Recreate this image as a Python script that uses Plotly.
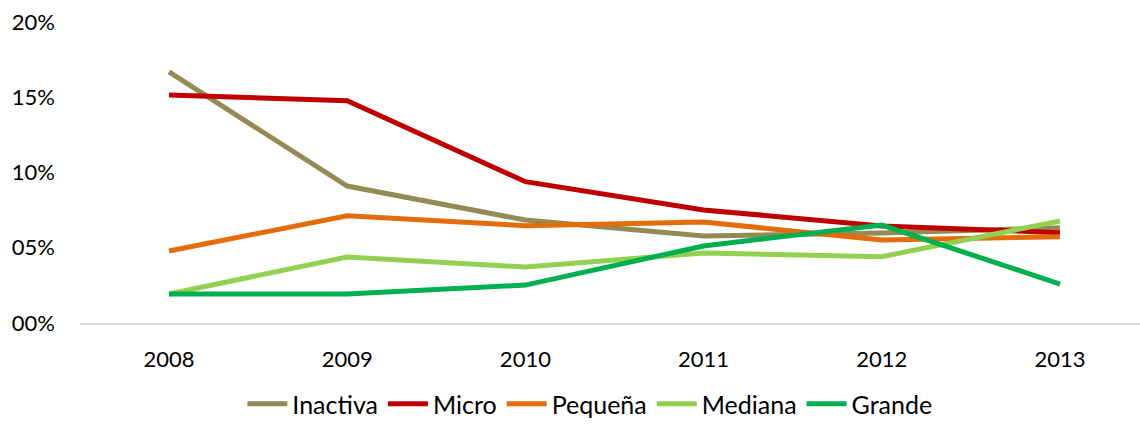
import plotly.graph_objects as go

years = ["2008", "2009", "2010", "2011", "2012", "2013"]
inactiva = [16.68, 9.10, 6.84, 5.78, 5.98, 6.33]
micro = [15.15, 14.77, 9.39, 7.51, 6.45, 6.00]
pequena = [4.78, 7.13, 6.47, 6.71, 5.51, 5.73]
mediana = [1.93, 4.39, 3.72, 4.65, 4.41, 6.78]
grande = [1.93, 1.93, 2.52, 5.12, 6.51, 2.59]

series_names = ["Inactiva", "Micro", "Pequeña", "Mediana", "Grande"]
series_values = [inactiva, micro, pequena, mediana, grande]
colors = ["#948A54", "#C00000", "#E46C0A", "#92D050", "#00B050"]

y_tickvals = [0, 5, 10, 15, 20]
y_ticktext = ["00%", "05%", "10%", "15%", "20%"]

fig = go.Figure()
for name, vals, col in zip(series_names, series_values, colors):
    fig.add_trace(go.Scatter(x=years, y=vals, mode="lines", name=name,
                             line=dict(color=col, width=5)))

font = "Lato, 'Open Sans', sans-serif"
fig.update_layout(
    width=1140, height=427,
    margin=dict(l=80, r=0, t=22, b=0),
    paper_bgcolor="white", plot_bgcolor="white",
    font=dict(family=font, size=22, color="#000000"),
    showlegend=True,
    legend=dict(orientation="h", x=0.481, xanchor="center", y=0.0, yanchor="bottom",
                font=dict(size=25), itemwidth=40, tracegroupgap=0,
                bgcolor="rgba(0,0,0,0)"),
    xaxis=dict(type="category", range=[-0.4994, 5.449], showgrid=False,
               showline=True, linecolor="#D9D9D9", linewidth=1.5,
               ticks="", ticklabelstandoff=16, zeroline=False, automargin=False),
    yaxis=dict(range=[0, 20], tickvals=y_tickvals, ticktext=y_ticktext,
               domain=[104 / 405, 1], automargin=False,
               showgrid=False, showline=False, zeroline=False, ticks="",
               ticklabelstandoff=24),
)

fig.write_html("out.html", config={"displayModeBar": False},
               post_script="document.body.style.margin='0';document.body.style.overflow='hidden';")
